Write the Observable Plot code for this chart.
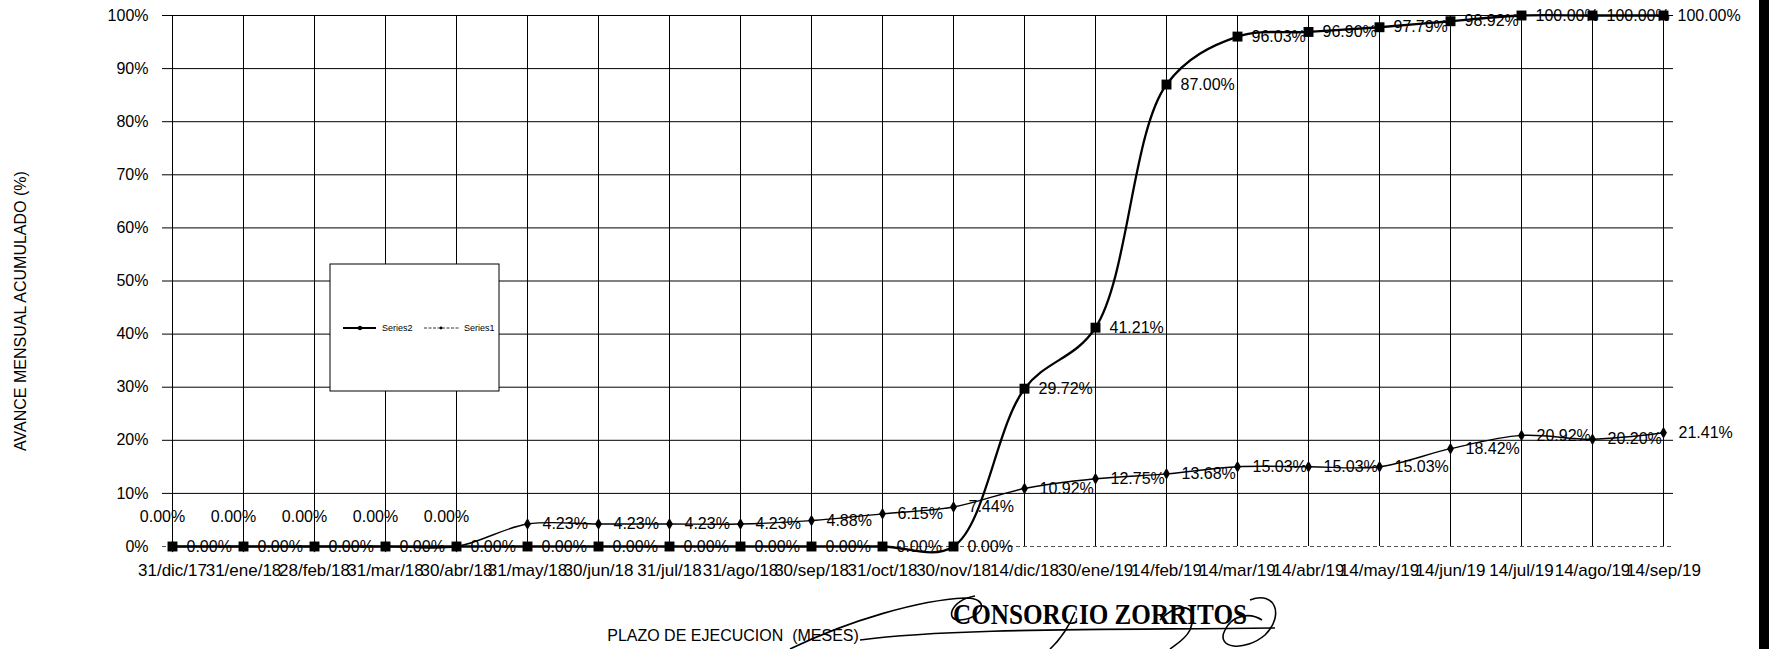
<!DOCTYPE html>
<html><head><meta charset="utf-8">
<script src="https://cdn.jsdelivr.net/npm/d3@7"></script>
<script src="https://cdn.jsdelivr.net/npm/@observablehq/plot@0.6"></script>
<style>
html,body{margin:0;padding:0;background:#fff;overflow:hidden;}
#chart{width:1769px;height:649px;overflow:visible;position:relative;}
#chart svg{display:block;max-width:none !important;}
#edge{position:fixed;top:0;right:0;width:10px;height:100%;background:#000;z-index:5;}
</style></head><body><div id="chart"></div><div id="edge"></div>
<script>
// ---- data ----
const fechas = ["31/dic/17","31/ene/18","28/feb/18","31/mar/18","30/abr/18","31/may/18","30/jun/18","31/jul/18","31/ago/18","30/sep/18","31/oct/18","30/nov/18","14/dic/18","30/ene/19","14/feb/19","14/mar/19","14/abr/19","14/may/19","14/jun/19","14/jul/19","14/ago/19","14/sep/19"];
const serie2 = [0,0,0,0,0,0,0,0,0,0,0,0,29.72,41.21,87.00,96.03,96.90,97.79,98.92,100,100,100];
const serie1 = [0,0,0,0,0,4.23,4.23,4.23,4.23,4.88,6.15,7.44,10.92,12.75,13.68,15.03,15.03,15.03,18.42,20.92,20.20,21.41];
const yTicks = [0,10,20,30,40,50,60,70,80,90,100];
const nombres = ["Series2","Series1"];
const tituloY = "AVANCE MENSUAL ACUMULADO (%)";
const tituloX = "PLAZO DE EJECUCION  (MESES)";
const sello = "CONSORCIO ZORRITOS";

const s2 = fechas.map((f,i)=>({fecha:f, v:serie2[i]}));
const s1 = fechas.map((f,i)=>({fecha:f, v:serie1[i]}));
const fmt = d => d.v.toFixed(2) + "%";

const font = "'Liberation Sans', Arial, sans-serif";
const svg = Plot.plot({
  width: 1769, height: 649,
  marginLeft: 162, marginRight: 96, marginTop: 15, marginBottom: 103,
  style: {fontFamily: font, fontSize: "16px", background: "#fff", color: "#000", overflow: "visible"},
  x: {type: "point", domain: fechas, padding: 0, tickSize: 0, tickPadding: 17, label: null},
  y: {domain: [0,100], ticks: 10, tickFormat: d => d + "%", tickSize: 0, tickPadding: 14, label: null},
  marks: [
    Plot.ruleY(yTicks.filter(d => d > 0), {stroke: "#000", strokeWidth: 1}),
    Plot.ruleY([0], {stroke: "#555", strokeDasharray: "4,3"}),
    Plot.ruleX(fechas, {stroke: "#000", strokeWidth: 1}),
    Plot.line(s1, {x: "fecha", y: "v", curve: "catmull-rom", stroke: "#000", strokeWidth: 1.4}),
    Plot.line(s2, {x: "fecha", y: "v", curve: "catmull-rom", stroke: "#000", strokeWidth: 2.3}),
    Plot.dot(s1, {x: "fecha", y: "v", symbol: "diamond", r: 3.6, fill: "#000"}),
    Plot.dot(s2, {x: "fecha", y: "v", symbol: "square", r: 5.6, fill: "#000"}),
    Plot.text(s1.filter(d => d.v > 0), {x: "fecha", y: "v", text: fmt, dx: 15, textAnchor: "start", fontSize: 16, fill: "#000"}),
    Plot.text(s1.filter(d => d.v === 0), {x: "fecha", y: "v", text: fmt, dx: -10, dy: -30, textAnchor: "middle", fontSize: 16, fill: "#000"}),
    Plot.text(s2, {x: "fecha", y: "v", text: fmt, dx: 14, textAnchor: "start", fontSize: 16, fill: "#000"})
  ]
});
svg.style.maxWidth = "none";
document.getElementById("chart").appendChild(svg);

const g = d3.select(svg);
// heavier x tick labels, as in the scanned original
g.selectAll("g[aria-label='x-axis'] text, g[aria-label='x-axis tick label'] text").style("font-size", "17px");

// y title
g.append("text").attr("transform", "translate(20,311) rotate(-90)")
  .attr("text-anchor", "middle").attr("dominant-baseline", "central")
  .style("font-family", font).style("font-size", "16px").text(tituloY);
// x title
g.append("text").attr("x", 733).attr("y", 641).attr("text-anchor", "middle")
  .style("font-family", font).style("font-size", "16px").style("white-space", "pre").text(tituloX);

// legend
const lg = g.append("g");
lg.append("rect").attr("x", 330).attr("y", 264).attr("width", 169).attr("height", 127)
  .attr("fill", "#fff").attr("stroke", "#000").attr("stroke-width", 1);
lg.append("line").attr("x1", 343).attr("x2", 376).attr("y1", 328).attr("y2", 328).attr("stroke", "#000").attr("stroke-width", 1.8);
lg.append("circle").attr("cx", 360).attr("cy", 328).attr("r", 2.2).attr("fill", "#000");
lg.append("text").attr("x", 382).attr("y", 328).attr("text-anchor", "start").attr("dominant-baseline", "central")
  .style("font-family", font).style("font-size", "9px").text(nombres[0]);
lg.append("line").attr("x1", 424).attr("x2", 459).attr("y1", 328).attr("y2", 328).attr("stroke", "#000").attr("stroke-width", 0.8).attr("stroke-dasharray", "3,1.5");
lg.append("circle").attr("cx", 441).attr("cy", 328).attr("r", 1.4).attr("fill", "#000");
lg.append("text").attr("x", 464).attr("y", 328).attr("text-anchor", "start").attr("dominant-baseline", "central")
  .style("font-family", font).style("font-size", "9px").text(nombres[1]);

// stamp + signature
g.append("text").attr("x", 953).attr("y", 624).attr("text-anchor", "start")
  .attr("textLength", 294).attr("lengthAdjust", "spacingAndGlyphs")
  .style("font-family", "'Liberation Serif', 'DejaVu Serif', serif").style("font-weight", "bold").style("font-size", "30px")
  .text(sello);
const firma = [
  "M 790 649 C 850 620, 920 600, 965 598 C 990 597, 985 618, 960 620 C 945 621, 950 600, 975 596",
  "M 860 640 C 950 628, 1100 630, 1275 628",
  "M 1250 600 C 1275 590, 1285 615, 1265 635 C 1245 652, 1215 649, 1225 630 C 1232 615, 1250 612, 1262 620",
  "M 1075 612 C 1070 625, 1060 640, 1050 649",
  "M 1160 620 C 1180 600, 1200 605, 1190 630 C 1185 640, 1175 645, 1170 649"
];
g.append("g").selectAll("path").data(firma).join("path").attr("d", d => d)
  .attr("fill", "none").attr("stroke", "#000").attr("stroke-width", 1.6);
</script>
</body></html>
